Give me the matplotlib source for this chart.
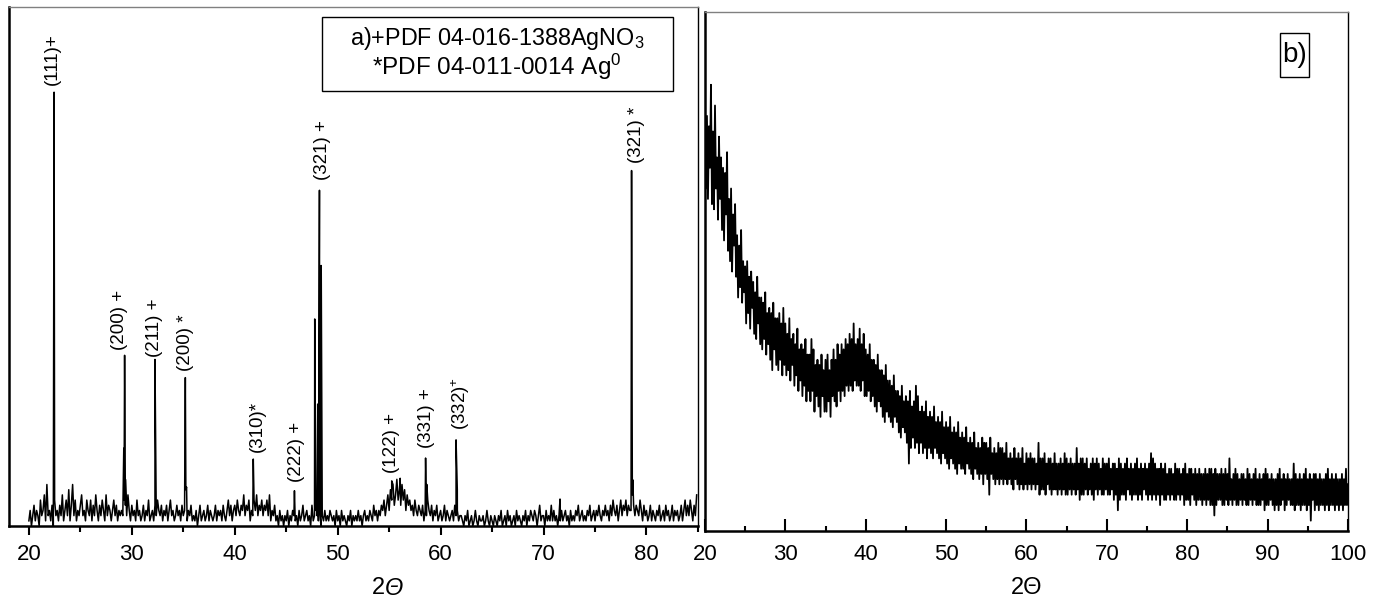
import numpy as np
import matplotlib.pyplot as plt
from matplotlib.patches import Rectangle
from matplotlib.ticker import MultipleLocator

plt.rcParams['font.family'] = ['Liberation Sans', 'DejaVu Sans']
plt.rcParams['mathtext.fontset'] = 'custom'
plt.rcParams['mathtext.rm'] = 'Liberation Sans'
plt.rcParams['mathtext.it'] = 'Liberation Sans:italic'

# ---- a) AgNO3 / Ag pattern: background on a 0.125 deg grid starting at 20 deg
left_start, left_step = 20.0, 0.125
left_noise = [
    1, 3, 0, 2, 4, 1, 3, 2,  0, 5, 2, 3, 6, 1, 8, 2,  3, 1, 4, 0, 5, 2, 3, 1,   # 20-23
    4, 2, 6, 1, 3, 5, 2, 7,  1, 4, 8, 2, 5, 1, 3, 2,                            # 23-25
    4, 6, 2, 3, 1, 5, 3, 2,  5, 1, 4, 2, 6, 3, 1, 4,  2, 5, 3, 1, 6, 2, 4, 3,   # 25-28
    1, 3, 5, 2, 4, 1, 3, 2,  3, 2, 5, 4, 2, 6, 3, 1,                            # 28-30
    4, 2, 3, 1, 5, 2, 3, 1,  2, 4, 1, 3, 2, 5, 1, 2,  3, 1, 4, 2, 5, 3, 2, 4,   # 30-33
    1, 3, 2, 4, 1, 3, 5, 2,  3, 1, 2, 4, 2, 3, 1, 4,                            # 33-35
    2, 3, 7, 1, 3, 2, 4, 1,  2, 1, 3, 0, 2, 4, 1, 2,  3, 1, 2, 4, 1, 3, 2, 1,   # 35-38
    2, 4, 1, 3, 2, 3, 1, 4,  2, 1, 3, 5, 2, 4, 1, 3,                            # 38-40
    4, 2, 5, 3, 2, 4, 3, 6,  2, 4, 3, 5, 1, 3, 2, 5,  3, 6, 2, 4, 3, 5, 2, 4,   # 40-43
    3, 5, 2, 6, 1, 3, 2, 4,  1, 2, 0, 3, 1, 2, 0, 2,                            # 43-45
    1, 3, 0, 2, 1, 3, 2, 1,  2, 0, 3, 1, 2, 4, 1, 2,  3, 1, 2, 0, 4, 1, 2, 3,   # 45-48
    2, 1, 3, 0, 2, 1, 3, 1,  2, 1, 3, 2, 1, 2, 0, 3,                            # 48-50
    1, 2, 0, 3, 1, 2, 1, 0,  2, 1, 3, 0, 2, 1, 2, 1,  3, 1, 2, 0, 2, 3, 1, 2,   # 50-53
    1, 3, 2, 1, 4, 2, 3, 1,  3, 2, 4, 3, 5, 2, 4, 6,                            # 53-55
    3, 7, 5, 8, 4, 6, 9, 5,  7, 4, 8, 5, 7, 3, 6, 4,  5, 3, 4, 2, 5, 3, 2, 4,   # 55-58
    3, 2, 4, 1, 3, 2, 5, 3,  2, 4, 1, 3, 2, 4, 1, 2,                            # 58-60
    3, 1, 2, 4, 1, 3, 2, 1,  2, 3, 1, 4, 2, 3, 1, 2,  2, 1, 0, 2, 1, 3, 0, 1,   # 60-63
    2, 0, 1, 3, 1, 0, 2, 1,  1, 2, 0, 1, 3, 1, 0, 2,                            # 63-65
    1, 0, 2, 1, 0, 2, 1, 3,  0, 1, 2, 0, 3, 1, 2, 0,  1, 2, 0, 3, 1, 2, 1, 0,   # 65-68
    2, 1, 3, 0, 2, 1, 3, 2,  1, 3, 2, 0, 2, 4, 1, 2,                            # 68-70
    2, 0, 3, 1, 2, 1, 4, 1,  3, 1, 2, 0, 2, 1, 3, 1,  2, 3, 1, 2, 0, 3, 1, 2,   # 70-73
    1, 3, 2, 4, 1, 2, 3, 1,  2, 1, 3, 2, 4, 1, 2, 3,                            # 73-75
    1, 3, 2, 4, 2, 1, 3, 2,  4, 2, 3, 1, 4, 2, 5, 3,  2, 4, 1, 3, 5, 2, 4, 3,   # 75-78
    5, 2, 4, 3, 3, 6, 4, 2,  4, 3, 2, 5, 3, 1, 4, 2,                            # 78-80
    3, 1, 2, 4, 1, 3, 2, 1,  3, 2, 4, 1, 2, 3, 1, 4,  2, 3, 1, 2, 4, 1, 3, 2,   # 80-83
    3, 1, 2, 4, 1, 3, 5, 2,  4, 2, 5, 3, 1, 4, 2, 6,                            # 83-85
]
peak_pos = [22.45, 29.22, 29.3, 29.38, 32.25, 35.2, 35.32, 41.8, 45.8,
            47.77, 47.95, 48.06, 48.23, 48.4, 55.25, 56.07, 58.54, 58.66,
            61.5, 61.62, 71.6, 78.55, 78.67]
peak_int = [83.6, 15, 32.9, 9, 32.1, 28.6, 7.5, 12.9, 6.8,
            39.9, 6, 23.5, 64.7, 50.2, 8.7, 9.2, 13.1, 8,
            16.6, 7, 5.2, 68.5, 8.9]

hkl_text = ['(111)+', '(200) +', '(211) +', '(200) *', '(310)*', '(222) +',
            '(321) +', '(122) +', '(331) +', '(332)$^{+}$', '(321) *']
hkl_x = [22.26, 28.84, 32.25, 35.2, 42.2, 46.0, 48.49, 55.23, 58.64, 61.95, 79.0]
hkl_y = [85.0, 33.9, 32.6, 29.9, 14.3, 8.5, 66.7, 10.2, 15.0, 18.5, 69.9]

# ---- b) amorphous sample, 0.125 deg grid from 20 to 100 deg (one row per degree)
right_start, right_step = 20.0, 0.125
right_int = [
    83, 66, 80, 64, 78, 70, 86, 63,   # 20
    77, 62, 82, 66, 72, 60, 76, 64,
    72, 58, 70, 56, 69, 61, 73, 54,
    64, 52, 66, 50, 61, 55, 63, 49,
    57, 45, 55, 47, 58, 44, 52, 46,
    51, 40, 52, 42, 49, 39, 50, 43,   # 25
    48, 38, 46, 37, 49, 40, 45, 36,
    45, 35, 44, 37, 46, 34, 42, 36,
    43, 33, 42, 31, 44, 35, 41, 32,
    41, 31, 42, 33, 40, 30, 43, 32,
    40, 30, 38, 31, 41, 29, 37, 32,   # 30
    38, 28, 36, 30, 39, 27, 35, 29,
    36, 26, 35, 28, 37, 25, 34, 27,
    34, 25, 37, 27, 35, 23, 32, 26,
    33, 24, 32, 22, 34, 26, 31, 23,
    33, 23, 34, 25, 31, 22, 33, 26,   # 35
    35, 25, 33, 24, 36, 27, 34, 25,
    36, 27, 35, 26, 37, 28, 36, 27,
    38, 28, 37, 27, 40, 29, 36, 28,
    37, 28, 39, 27, 36, 29, 38, 26,
    35, 26, 34, 27, 36, 25, 33, 26,   # 40
    33, 24, 32, 23, 34, 25, 31, 24,
    31, 22, 30, 21, 32, 23, 29, 22,
    29, 21, 28, 20, 30, 22, 27, 21,
    27, 19, 26, 18, 28, 20, 25, 19,
    26, 17, 25, 13, 27, 16, 24, 18,   # 45
    25, 16, 28, 17, 26, 15, 23, 17,
    24, 15, 23, 16, 25, 14, 22, 16,
    23, 15, 22, 14, 24, 16, 21, 15,
    22, 14, 21, 13, 23, 15, 20, 14,
    21, 13, 20, 12, 22, 14, 19, 13,   # 50
    20, 12, 19, 11, 21, 13, 18, 12,
    19, 12, 18, 11, 20, 13, 17, 12,
    18, 11, 17, 10, 19, 12, 16, 11,
    17, 10, 16, 11, 18, 9, 17, 11,
    17, 10, 16, 7, 18, 11, 15, 10,    # 55
    16, 9, 15, 10, 17, 9, 16, 10,
    16, 9, 15, 10, 17, 9, 14, 10,
    15, 9, 14, 8, 16, 10, 14, 9,
    15, 8, 14, 9, 16, 8, 13, 9,
    15, 8, 14, 9, 15, 8, 14, 9,       # 60
    14, 8, 13, 9, 17, 7, 14, 8,
    14, 8, 15, 7, 13, 9, 14, 8,
    14, 7, 13, 8, 15, 8, 13, 7,
    13, 8, 14, 7, 13, 8, 15, 7,
    14, 7, 13, 8, 14, 7, 13, 8,       # 65
    13, 7, 16, 8, 13, 6, 14, 7,
    14, 7, 13, 8, 14, 7, 12, 8,
    13, 7, 14, 6, 13, 8, 14, 7,
    13, 8, 12, 7, 14, 7, 13, 8,
    13, 7, 14, 7, 12, 8, 13, 6,       # 70
    13, 7, 12, 4, 14, 6, 13, 7,
    12, 7, 13, 6, 14, 8, 12, 7,
    13, 6, 12, 7, 13, 7, 14, 6,
    12, 7, 13, 6, 12, 8, 13, 7,
    12, 6, 13, 7, 15, 6, 14, 7,       # 75
    13, 6, 12, 7, 12, 5, 13, 7,
    12, 6, 13, 6, 11, 7, 12, 6,
    12, 7, 11, 6, 13, 6, 12, 7,
    12, 6, 11, 7, 12, 5, 13, 6,
    11, 6, 12, 5, 12, 7, 11, 6,       # 80
    12, 5, 11, 6, 12, 6, 11, 5,
    11, 6, 12, 5, 11, 6, 12, 5,
    12, 5, 11, 3, 12, 5, 11, 6,
    11, 6, 12, 5, 11, 5, 12, 6,
    11, 5, 14, 6, 10, 5, 11, 6,       # 85
    12, 5, 11, 5, 10, 6, 11, 5,
    11, 6, 10, 5, 12, 5, 11, 6,
    10, 5, 11, 6, 12, 5, 10, 5,
    11, 5, 10, 6, 11, 4, 12, 5,
    11, 5, 10, 6, 11, 5, 10, 4,       # 90
    10, 5, 11, 4, 12, 5, 10, 6,
    11, 4, 10, 5, 11, 6, 10, 5,
    10, 5, 13, 4, 11, 5, 10, 5,
    11, 4, 10, 5, 11, 5, 12, 4,
    10, 5, 11, 2, 10, 6, 11, 4,       # 95
    11, 5, 10, 4, 11, 5, 10, 5,
    10, 4, 11, 5, 12, 4, 10, 5,
    11, 5, 10, 4, 11, 5, 10, 4,
    10, 5, 11, 4, 10, 5, 12, 5,
    9,                                # 100
]

# merge background and peak points into one trace
left_x = left_start + left_step * np.arange(len(left_noise))
xa = np.concatenate([left_x, peak_pos])
ya = np.concatenate([left_noise, peak_int])
order = np.argsort(xa)
xa, ya = xa[order], ya[order]

right_x = right_start + right_step * np.arange(len(right_int))

fig = plt.figure(figsize=(13.79, 6.02), dpi=100)
fig.patch.set_facecolor('white')
ax1 = fig.add_axes([0.00653, 0.1262, 0.4996, 0.862])
ax2 = fig.add_axes([0.5112, 0.1179, 0.4663, 0.862])

# panel a
ax1.plot(xa, ya, color='black', lw=1.1)
ax1.set_xlim(18.07, 85.0)
ax1.set_ylim(0, 100)
ax1.set_yticks([])
ax1.xaxis.set_major_locator(MultipleLocator(10))
ax1.xaxis.set_minor_locator(MultipleLocator(5))
ax1.tick_params(axis='x', which='major', direction='out', length=6.2, width=1.5,
                labelsize=16, pad=7)
ax1.tick_params(axis='x', which='minor', direction='out', length=4, width=1.5)
# 2Theta with italic theta
ax1.text(0.5457, -0.1195, '2', transform=ax1.transAxes, ha='right', va='center',
         fontsize=17)
ax1.text(0.5457, -0.1195, '\u0398', transform=ax1.transAxes, ha='left', va='center',
         fontsize=17, style='italic')
for s, x, y in zip(hkl_text, hkl_x, hkl_y):
    ax1.text(x, y, s, rotation=90, ha='center', va='bottom', fontsize=13.5)

ax1.add_patch(Rectangle((0.4538, 0.8387), 0.5095, 0.1413, transform=ax1.transAxes,
                        fill=False, edgecolor='black', lw=1.0))
ax1.text(0.708, 0.940, r'a)+PDF 04-016-1388AgNO$_3$', transform=ax1.transAxes,
         ha='center', va='center', fontsize=16.8)
ax1.text(0.708, 0.884, r'*PDF 04-011-0014 Ag$^0$', transform=ax1.transAxes,
         ha='center', va='center', fontsize=17.5)

# panel b
ax2.plot(right_x, right_int, color='black', lw=1.3)
ax2.set_xlim(20, 100)
ax2.set_ylim(0, 100)
ax2.set_yticks([])
ax2.xaxis.set_major_locator(MultipleLocator(10))
ax2.xaxis.set_minor_locator(MultipleLocator(5))
ax2.tick_params(axis='x', which='major', direction='in', length=9, width=1.5,
                labelsize=16, pad=9)
ax2.tick_params(axis='x', which='minor', direction='in', length=3.6, width=1.5)
ax2.text(0.5, -0.109, '2\u0398', transform=ax2.transAxes, ha='center', va='center',
         fontsize=17)
ax2.add_patch(Rectangle((0.894, 0.8748), 0.045, 0.0847, transform=ax2.transAxes,
                        fill=False, edgecolor='black', lw=1.0))
ax2.text(0.9168, 0.917, 'b)', transform=ax2.transAxes, ha='center', va='center',
         fontsize=20)

for ax in (ax1, ax2):
    ax.spines['left'].set_linewidth(1.8)
    ax.spines['bottom'].set_linewidth(1.8)
    ax.spines['right'].set_linewidth(1.0)
    ax.spines['top'].set_linewidth(1.0)
    ax.spines['top'].set_color('#808080')

fig.savefig('out.png', dpi=100, facecolor='white')
